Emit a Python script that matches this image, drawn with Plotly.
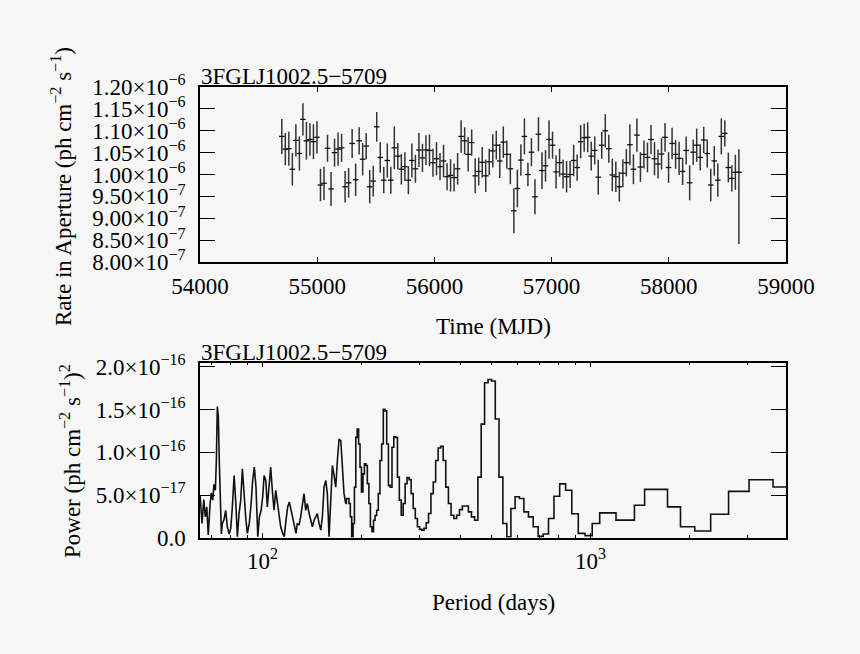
import plotly.graph_objects as go
import math

# ---------------- Light curve (top panel) ----------------
mjd = [
    54698, 54728, 54758, 54788, 54818, 54848, 54878, 54908, 54938, 54968,
    54998, 55028, 55058, 55088, 55118, 55148, 55178, 55208, 55238, 55268,
    55298, 55328, 55358, 55388, 55418, 55448, 55478, 55508, 55538, 55568,
    55598, 55628, 55658, 55688, 55718, 55748, 55778, 55808, 55838, 55868,
    55898, 55928, 55958, 55988, 56018, 56048, 56078, 56108, 56138, 56168,
    56198, 56228, 56258, 56288, 56318, 56348, 56378, 56408, 56438, 56468,
    56498, 56528, 56558, 56588, 56618, 56648, 56678, 56708, 56738, 56768,
    56798, 56828, 56858, 56888, 56918, 56948, 56978, 57008, 57038, 57068,
    57098, 57128, 57158, 57188, 57218, 57248, 57278, 57308, 57338, 57368,
    57398, 57428, 57458, 57488, 57518, 57548, 57578, 57608, 57638, 57668,
    57698, 57728, 57758, 57788, 57818, 57848, 57878, 57908, 57938, 57968,
    57998, 58028, 58058, 58088, 58118, 58148, 58178, 58208, 58238, 58268,
    58298, 58328, 58358, 58388, 58418, 58448, 58478, 58508, 58538, 58568,
    58598,
]
# rate in units of 1e-6 ph cm^-2 s^-1
rate = [
    1.087, 1.058, 1.059, 1.012, 1.078, 1.048, 1.126, 1.077, 1.080, 1.075,
    1.085, 0.976, 0.980, 1.060, 0.967, 1.050, 1.058, 1.061, 0.972, 0.981,
    1.071, 0.988, 1.077, 1.035, 1.065, 0.972, 0.985, 1.109, 1.039, 0.987,
    1.032, 0.987, 1.061, 1.042, 1.012, 1.018, 0.987, 1.032, 1.013, 1.056,
    1.038, 1.056, 1.055, 1.027, 1.036, 1.018, 1.031, 0.995, 0.998, 0.993,
    1.013, 1.087, 1.077, 1.046, 1.073, 0.997, 1.007, 1.028, 0.997, 1.029,
    1.054, 1.067, 1.031, 1.074, 1.046, 1.013, 0.917, 0.968, 1.033, 1.087,
    1.000, 1.051, 0.949, 1.092, 1.009, 1.020, 1.080, 1.067, 1.006, 1.027,
    1.001, 0.995, 1.000, 1.032, 1.016, 1.075, 1.084, 1.085, 1.042, 1.055,
    0.994, 1.067, 1.100, 1.059, 0.999, 0.995, 0.972, 1.003, 1.027, 1.068,
    1.012, 1.090, 1.017, 1.046, 1.039, 1.080, 1.036, 1.024, 1.047, 1.085,
    1.016, 1.071, 1.046, 1.037, 1.007, 1.055, 0.981, 1.051, 1.067, 1.039,
    1.079, 1.048, 0.976, 1.031, 0.987, 1.087, 1.094, 1.016, 0.991, 1.005,
    1.005,
]
rate_err_up = [
    0.040, 0.037, 0.039, 0.037, 0.037, 0.039, 0.037, 0.043, 0.037, 0.040,
    0.037, 0.037, 0.038, 0.031, 0.039, 0.032, 0.038, 0.032, 0.036, 0.034,
    0.033, 0.037, 0.031, 0.037, 0.030, 0.038, 0.035, 0.034, 0.035, 0.030,
    0.039, 0.031, 0.049, 0.030, 0.035, 0.033, 0.032, 0.039, 0.032, 0.039,
    0.032, 0.034, 0.036, 0.032, 0.038, 0.031, 0.037, 0.031, 0.037, 0.032,
    0.036, 0.037, 0.031, 0.039, 0.030, 0.040, 0.032, 0.035, 0.037, 0.030,
    0.038, 0.033, 0.039, 0.036, 0.032, 0.035, 0.051, 0.043, 0.036, 0.041,
    0.027, 0.032, 0.040, 0.039, 0.042, 0.036, 0.044, 0.031, 0.038, 0.032,
    0.033, 0.036, 0.031, 0.036, 0.030, 0.038, 0.032, 0.034, 0.033, 0.032,
    0.040, 0.031, 0.038, 0.032, 0.037, 0.035, 0.034, 0.032, 0.031, 0.047,
    0.034, 0.038, 0.034, 0.032, 0.034, 0.033, 0.038, 0.033, 0.036, 0.033,
    0.035, 0.036, 0.033, 0.038, 0.031, 0.032, 0.040, 0.029, 0.038, 0.030,
    0.030, 0.032, 0.037, 0.034, 0.038, 0.041, 0.030, 0.034, 0.030, 0.040,
    0.053,
]
rate_err_down = rate_err_up[:-1] + [0.164]

rate_ticks = [0.80, 0.85, 0.90, 0.95, 1.00, 1.05, 1.10, 1.15, 1.20]
rate_ticktext = [
    "8.00×10<sup>−7</sup>", "8.50×10<sup>−7</sup>", "9.00×10<sup>−7</sup>",
    "9.50×10<sup>−7</sup>", "1.00×10<sup>−6</sup>", "1.05×10<sup>−6</sup>",
    "1.10×10<sup>−6</sup>", "1.15×10<sup>−6</sup>", "1.20×10<sup>−6</sup>",
]
mjd_ticks = [54000, 55000, 56000, 57000, 58000, 59000]

# ---------------- Periodogram (bottom panel) ----------------
# power in units of 1e-17 (ph cm^-2 s^-1)^2
period_dense = [
    64.5, 65.4, 66.2, 66.9, 67.6, 68.3, 69.2, 69.8, 70.5, 71.1,
    71.8, 72.3, 72.8, 73.3, 73.8, 74.3, 74.9, 75.4, 76.3, 77.2,
    78.1, 79.1, 80.0, 80.9, 81.9, 82.8, 83.8, 84.8, 85.8, 86.8,
    87.8, 88.9, 89.9, 91.1, 92.3, 93.3, 94.4, 95.5, 96.7, 97.8,
    99.0, 100.1, 101.1, 102.3, 103.4, 104.7, 105.9, 107.1, 108.4, 109.7,
    110.9, 112.3, 113.6, 115.2, 116.5, 117.9, 119.3, 120.7, 122.2, 123.6,
    125.0, 126.5, 127.6, 129.2, 130.7, 132.2, 133.8, 135.4, 136.9, 138.7,
    140.3, 141.9, 143.6, 145.3, 146.9, 148.7, 150.5, 152.2, 154.0, 155.9,
    157.6, 159.5, 161.4, 163.3, 165.2, 167.2, 169.1, 171.1, 173.2, 175.1,
    177.2, 179.3,
]
power_dense = [
    4.97, 1.67, 4.46, 2.44, 3.60, 0.31, 4.00, 5.24, 4.39, 6.25,
    5.55, 9.04, 15.36, 14.27, 9.04, 3.21, 0.43, 1.67, 2.13, 3.21,
    1.28, 0.43, 1.09, 3.60, 7.29, 4.39, 0.12, 2.83, 4.39, 8.07,
    5.16, 2.25, 0.51, 1.67, 4.00, 6.71, 8.26, 5.93, 0.12, 2.44,
    3.21, 4.78, 7.29, 6.71, 3.60, 6.71, 8.26, 5.55, 3.21, 5.55,
    4.00, 2.44, 1.28, 0.51, 0.12, 2.05, 3.60, 4.19, 3.21, 2.05,
    1.28, 0.51, 1.67, 1.48, 2.44, 4.00, 5.16, 3.21, 4.00, 2.83,
    2.05, 1.28, 2.05, 2.44, 2.83, 1.67, 0.89, 2.44, 5.93, 6.71,
    5.16, 0.12, 4.39, 8.46, 7.29, 5.93, 9.04, 11.56, 11.36, 8.65,
    5.16, 4.00,
]
period_step = [
    3945.0, 3287.5, 2817.9, 2465.6, 2191.7, 1972.5, 1793.2, 1643.8, 1517.3, 1408.9,
    1315.0, 1232.8, 1160.3, 1095.8, 1038.2, 986.3, 939.3, 896.6, 857.6, 821.9,
    789.0, 758.7, 730.6, 704.5, 680.2, 657.5, 636.3, 616.4, 597.7, 580.1,
    563.6, 547.9, 533.1, 519.1, 505.8, 493.1, 481.1, 469.6, 458.7, 448.3,
    438.3, 428.8, 419.7, 410.9, 402.6, 394.5, 386.8, 379.3, 372.2, 365.3,
    358.6, 352.2, 346.1, 340.1, 334.3, 328.8, 323.4, 318.1, 313.1, 308.2,
    303.5, 298.9, 294.4, 290.1, 285.9, 281.8, 277.8, 274.0, 270.2, 266.6,
    263.0, 259.5, 256.2, 252.9, 249.7, 246.6, 243.5, 240.5, 237.7, 234.8,
    232.1, 229.4, 226.7, 224.1, 221.6, 219.2, 216.8, 214.4, 212.1, 209.8,
    207.6, 205.5, 203.4, 201.3, 199.2, 197.3, 195.3, 193.4, 191.5, 189.7,
    187.9, 186.1, 184.3, 182.6, 181.0, 179.3,
]
power_step = [
    5.94, 6.79, 5.43, 2.75, 0.78, 1.28, 3.61, 5.66, 5.66, 3.80,
    2.06, 2.06, 2.91, 2.91, 1.67, 0.24, 0.51, 2.80, 5.55, 6.30,
    4.85, 2.25, 0.43, 0.15, 1.28, 2.44, 3.02, 4.60, 4.80, 3.42,
    0.12, 1.67, 7.10, 13.90, 18.35, 18.54, 18.15, 13.30, 7.10, 2.05,
    2.44, 3.02, 3.72, 3.72, 3.29, 2.63, 2.25, 2.63, 4.00, 5.93,
    9.04, 10.70, 10.51, 9.04, 6.52, 5.16, 2.83, 1.75, 1.09, 0.89,
    0.98, 1.28, 2.25, 3.42, 5.16, 6.80, 7.04, 6.33, 4.00, 2.63,
    4.40, 7.10, 11.75, 11.83, 10.60, 5.93, 6.13, 10.98, 14.86, 15.05,
    10.98, 9.04, 5.16, 3.21, 2.60, 2.05, 0.70, 1.28, 4.00, 6.33,
    8.46, 8.65, 7.48, 5.35, 8.26, 10.98, 12.73, 11.75, 5.93, 1.67,
    0.12, 2.44, 4.00, 4.58, 4.58, 4.00,
]
power_ticks = [0, 5, 10, 15, 20]
power_ticktext = ["0.0", "5.0×10<sup>−17</sup>", "1.0×10<sup>−16</sup>",
                  "1.5×10<sup>−16</sup>", "2.0×10<sup>−16</sup>"]
period_major = [100, 1000]
period_major_text = ["10<sup>2</sup>", "10<sup>3</sup>"]
period_minor = [70, 80, 90, 200, 300, 400, 500, 600, 700, 800, 900, 2000, 3000]

source_name = "3FGLJ1002.5−5709"

# ---------------- Figure ----------------
W, H = 860, 654
FONT = "Liberation Serif, Times New Roman, serif"
BG = "#f7f7f7"
INK = "#111111"

def px_x(p):
    return p / W

def px_y(p):
    return 1 - p / H

top_dom = [px_y(262), px_y(87)]
bot_dom = [px_y(537.7), px_y(362.7)]
x_dom = [px_x(200), px_x(786)]

fig = go.Figure()

fig.add_trace(go.Scatter(
    x=mjd, y=rate, mode="markers", xaxis="x", yaxis="y",
    marker=dict(symbol="line-ew", size=4, color=INK, line=dict(width=1.3, color=INK)),
    error_y=dict(type="data", symmetric=False, array=rate_err_up, arrayminus=rate_err_down,
                 width=0, thickness=1.5, color="#333333"),
    showlegend=False, hoverinfo="skip",
))
fig.add_trace(go.Scatter(
    x=period_dense, y=power_dense, mode="lines", xaxis="x2", yaxis="y2",
    line=dict(color=INK, width=1.6), showlegend=False, hoverinfo="skip",
))
fig.add_trace(go.Scatter(
    x=period_step, y=power_step, mode="lines", xaxis="x2", yaxis="y2",
    line=dict(color=INK, width=1.6, shape="hvh"), showlegend=False, hoverinfo="skip",
))

tickfont = dict(family=FONT, size=23, color="black")
common = dict(showline=True, linecolor="black", linewidth=1.5, mirror="allticks",
              ticks="inside", tickcolor="black", tickwidth=1.3, showgrid=False,
              zeroline=False, tickfont=tickfont)

fig.update_layout(
    width=W, height=H,
    margin=dict(l=0, r=0, t=0, b=0, autoexpand=False),
    paper_bgcolor=BG, plot_bgcolor=BG,
    xaxis=dict(domain=x_dom, anchor="y", range=[54000, 59000], tickmode="array",
               tickvals=mjd_ticks, ticktext=[str(v) for v in mjd_ticks], ticklen=5,
               ticklabelstandoff=3, **common),
    yaxis=dict(domain=top_dom, anchor="x", range=[0.80, 1.20], tickmode="array",
               tickvals=rate_ticks, ticktext=rate_ticktext, ticklen=15,
               ticklabelstandoff=8, **common),
    xaxis2=dict(domain=x_dom, anchor="y2", type="log",
                range=[math.log10(64.46), math.log10(3945.0)], tickmode="array",
                tickvals=period_major, ticktext=period_major_text, ticklen=5,
                ticklabelstandoff=2,
                minor=dict(tickmode="array", tickvals=period_minor, ticks="inside",
                           ticklen=3, tickcolor="black", tickwidth=1.2, showgrid=False),
                **common),
    yaxis2=dict(domain=bot_dom, anchor="x2", range=[0, 20.5], tickmode="array",
                tickvals=power_ticks, ticktext=power_ticktext, ticklen=15,
                ticklabelstandoff=8, **common),
)

ann_font = dict(family=FONT, size=23, color="black")
annotations = [
    dict(text=source_name, x=px_x(199), y=px_y(87), xref="paper", yref="paper",
         xanchor="left", yanchor="bottom", showarrow=False, font=ann_font, yshift=-4),
    dict(text=source_name, x=px_x(199), y=px_y(362.7), xref="paper", yref="paper",
         xanchor="left", yanchor="bottom", showarrow=False, font=ann_font, yshift=-4),
    dict(text="Time (MJD)", x=px_x(493), y=px_y(326), xref="paper", yref="paper",
         xanchor="center", yanchor="middle", showarrow=False, font=ann_font),
    dict(text="Period (days)", x=px_x(493), y=px_y(602), xref="paper", yref="paper",
         xanchor="center", yanchor="middle", showarrow=False, font=ann_font),
    dict(text="Rate in Aperture (ph cm<sup>−2</sup> s<sup>−1</sup>)", x=px_x(61), y=px_y(187),
         xref="paper", yref="paper", xanchor="center", yanchor="middle", textangle=-90,
         showarrow=False, font=ann_font),
    dict(text="Power (ph cm<sup>−2</sup> s<sup>−1</sup>)<sup>2</sup>", x=px_x(70), y=px_y(461),
         xref="paper", yref="paper", xanchor="center", yanchor="middle", textangle=-90,
         showarrow=False, font=ann_font),
]
fig.update_layout(annotations=annotations)

fig.write_html(
    "out.html",
    config={"displayModeBar": False},
    post_script="document.body.style.margin='0';document.body.style.background='%s';" % BG,
)
